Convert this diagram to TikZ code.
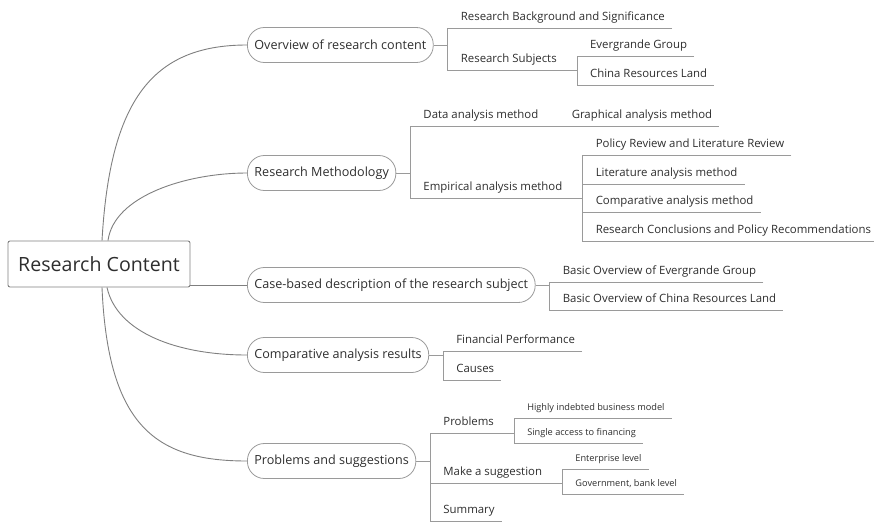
\documentclass[tikz,border=0pt]{standalone}
\usepackage{fontspec}
\setmainfont{Open Sans}
\usetikzlibrary{positioning, calc}
\definecolor{linegray}{HTML}{7F7F7F}
\definecolor{twiggray}{HTML}{9A9A9A}
\definecolor{textgray}{HTML}{2E2E2E}
\tikzset{
    x=1pt, y=-1pt,
    every node/.style={text=textgray},
    root/.style={draw=linegray, rounded corners=2pt, line width=0.9pt,
        minimum width=182pt, minimum height=46pt, font=\fontsize{19.6}{22}\selectfont},
    main/.style={draw=twiggray, rounded corners=17pt, line width=0.8pt, anchor=west,
        minimum height=35pt, inner xsep=7pt, font=\fontsize{12.6}{14}\selectfont},
    sub/.style={anchor=south west, inner xsep=7pt, inner ysep=4.5pt,
        text height=8.5pt, text depth=3pt, font=\fontsize{11.4}{13}\selectfont},
    leaf/.style={sub, inner ysep=4.5pt, text height=7pt, text depth=2.5pt,
        font=\fontsize{9.2}{11}\selectfont},
    branch/.style={draw=linegray, line width=0.9pt},
    twig/.style={draw=twiggray, line width=0.8pt},
}
\begin{document}
\begin{tikzpicture}
    \useasboundingbox (0,0) rectangle (874,522);
    % root and main topics
    \node[root] (root) at (99,264) {Research Content};
    \node[main] (ov) at (247,45) {Overview of research content};
    \node[main] (rm) at (247,173) {Research Methodology};
    \node[main] (cb) at (247,285) {Case-based description of the research subject};
    \node[main] (car) at (247,355) {Comparative analysis results};
    \node[main] (ps) at (247,461) {Problems and suggestions};

    \draw[branch] ([xshift=3pt]root.north) .. controls +(8,-140) and +(-95,0) .. (ov.west);
    \draw[branch] ([xshift=9pt]root.north) .. controls +(6,-45) and +(-60,0) .. (rm.west);
    \draw[branch] (root.east |- cb.west) -- (cb.west);
    \draw[branch] ([xshift=8pt]root.south) .. controls +(10,45) and +(-70,0) .. (car.west);
    \draw[branch] ([xshift=3pt]root.south) .. controls +(6,140) and +(-90,0) .. (ps.west);

    % overview
    \coordinate (ovj) at ([xshift=14pt]ov.east);
    \node[sub] (ov1) at ([xshift=6pt]ovj |- 0,28) {Research Background and Significance};
    \node[sub] (ov2) at ([xshift=6pt]ovj |- 0,70) {Research Subjects};
    \coordinate (sj) at ([xshift=13pt]ov2.south east);
    \node[sub] (sj1) at ([xshift=6pt]sj |- 0,56) {Evergrande Group};
    \node[sub] (sj2) at ([xshift=6pt]sj |- 0,85) {China Resources Land};
    \draw[twig] (ov.east) -- (ovj);
    \draw[twig] (ov1.south east) -- (ov1.south east -| ovj) -- (sj -| ovj) -- (sj);
    \draw[twig] (sj1.south east) -- (sj1.south east -| sj) -- (sj2.south east -| sj) -- (sj2.south east);

    % methodology
    \coordinate (rmj) at ([xshift=14pt]rm.east);
    \node[sub] (rm1) at ([xshift=6pt]rmj |- 0,126) {Data analysis method};
    \coordinate (dj) at ([xshift=13pt]rm1.south east);
    \node[sub] (dj1) at ([xshift=6pt]dj) {Graphical analysis method};
    \node[sub] (rm2) at ([xshift=6pt]rmj |- 0,198) {Empirical analysis method};
    \coordinate (ej) at ([xshift=13pt]rm2.south east);
    \node[sub] (ej1) at ([xshift=6pt]ej |- 0,155) {Policy Review and Literature Review};
    \node[sub] (ej2) at ([xshift=6pt]ej |- 0,184) {Literature analysis method};
    \node[sub] (ej3) at ([xshift=6pt]ej |- 0,212) {Comparative analysis method};
    \node[sub] (ej4) at ([xshift=6pt]ej |- 0,241) {Research Conclusions and Policy Recommendations};
    \draw[twig] (rm.east) -- (rmj);
    \draw[twig] (dj) -- (dj -| rmj) -- (ej -| rmj) -- (ej);
    \draw[twig] (dj) -- (dj1.south east);
    \draw[twig] (ej1.south east) -- (ej1.south east -| ej) -- (ej4.south east -| ej) -- (ej4.south east);
    \draw[twig] (ej2.south east) -- (ej2.south east -| ej);
    \draw[twig] (ej3.south east) -- (ej3.south east -| ej);

    % case description
    \coordinate (cbj) at ([xshift=14pt]cb.east);
    \node[sub] (cb1) at ([xshift=6pt]cbj |- 0,282) {Basic Overview of Evergrande Group};
    \node[sub] (cb2) at ([xshift=6pt]cbj |- 0,310) {Basic Overview of China Resources Land};
    \draw[twig] (cb.east) -- (cbj);
    \draw[twig] (cb1.south east) -- (cb1.south east -| cbj) -- (cb2.south east -| cbj) -- (cb2.south east);

    % comparative results
    \coordinate (carj) at ([xshift=14pt]car.east);
    \node[sub] (car1) at ([xshift=6pt]carj |- 0,351) {Financial Performance};
    \node[sub] (car2) at ([xshift=6pt]carj |- 0,380) {Causes};
    \draw[twig] (car.east) -- (carj);
    \draw[twig] (car1.south east) -- (car1.south east -| carj) -- (car2.south east -| carj) -- (car2.south east);

    % problems and suggestions
    \coordinate (psj) at ([xshift=14pt]ps.east);
    \node[sub] (ps1) at ([xshift=6pt]psj |- 0,433) {Problems};
    \coordinate (pj) at ([xshift=13pt]ps1.south east);
    \node[leaf] (pj1) at ([xshift=6pt]pj |- 0,418) {Highly indebted business model};
    \node[leaf] (pj2) at ([xshift=6pt]pj |- 0,443) {Single access to financing};
    \node[sub] (ps2) at ([xshift=6pt]psj |- 0,483) {Make a suggestion};
    \coordinate (mj) at ([xshift=13pt]ps2.south east);
    \node[leaf] (mj1) at ([xshift=6pt]mj |- 0,469) {Enterprise level};
    \node[leaf] (mj2) at ([xshift=6pt]mj |- 0,494) {Government, bank level};
    \node[sub] (ps3) at ([xshift=6pt]psj |- 0,521) {Summary};
    \draw[twig] (ps.east) -- (psj);
    \draw[twig] (pj) -- (pj -| psj) -- (ps3.south east -| psj) -- (ps3.south east);
    \draw[twig] (mj) -- (mj -| psj);
    \draw[twig] (pj1.south east) -- (pj1.south east -| pj) -- (pj2.south east -| pj) -- (pj2.south east);
    \draw[twig] (mj1.south east) -- (mj1.south east -| mj) -- (mj2.south east -| mj) -- (mj2.south east);
\end{tikzpicture}
\end{document}
